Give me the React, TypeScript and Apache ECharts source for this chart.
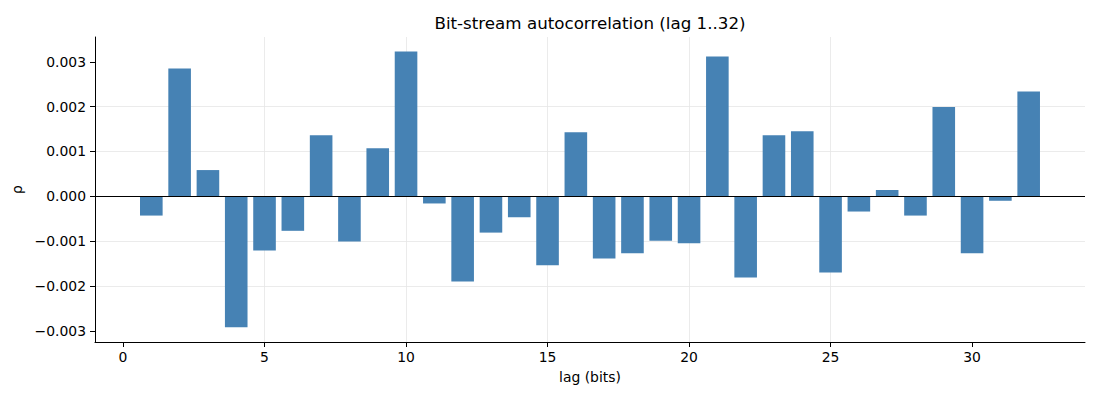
import React, { useEffect, useRef } from "react";
import * as echarts from "echarts";

const lags: number[] = [
  1, 2, 3, 4, 5, 6, 7, 8, 9, 10, 11, 12, 13, 14, 15, 16,
  17, 18, 19, 20, 21, 22, 23, 24, 25, 26, 27, 28, 29, 30, 31, 32,
];
const rho: number[] = [
  -0.00043, 0.00285, 0.000585, -0.00292, -0.00121, -0.00077, 0.00136, -0.00101,
  0.00107, 0.00323, -0.00016, -0.0019, -0.00081, -0.00047, -0.00154, 0.00143,
  -0.00139, -0.00127, -0.00099, -0.00105, 0.00312, -0.00181, 0.00136, 0.00145,
  -0.0017, -0.00034, 0.00014, -0.00043, 0.00199, -0.00127, -0.0001, 0.00234,
];
const xTicks: number[] = [0, 5, 10, 15, 20, 25, 30];
const yTicks: number[] = [-0.003, -0.002, -0.001, 0, 0.001, 0.002, 0.003];

const TITLE = "Bit-stream autocorrelation (lag 1..32)";
const X_NAME = "lag (bits)";
const Y_NAME = "ρ";

const FONT = "DejaVu Sans";

export default function App() {
  const ref = useRef<HTMLDivElement>(null);

  useEffect(() => {
    if (!ref.current) return;
    const chart = echarts.init(ref.current, undefined, { renderer: "svg" });
    const fmtY = (v: number) => {
      const s = Math.abs(v) < 1e-12 ? "0.000" : v.toFixed(3);
      return s.replace("-", "\u2212");
    };
    chart.setOption({
      animation: false,
      backgroundColor: "#ffffff",
      textStyle: { fontFamily: FONT },
      graphic: [
        {
          type: "text",
          x: 590,
          y: 23,
          style: {
            text: TITLE,
            fontFamily: FONT,
            fontSize: 16.7,
            fill: "#000000",
            textAlign: "center",
            textVerticalAlign: "middle",
          },
        },
      ],
      grid: { left: 95, right: 15, top: 37, bottom: 58, containLabel: false },
      xAxis: {
        type: "value",
        min: -0.99,
        max: 33.99,
        name: X_NAME,
        nameLocation: "middle",
        nameGap: 28,
        nameTextStyle: { fontFamily: FONT, fontSize: 13.9, color: "#000" },
        axisLine: { show: true, onZero: false, lineStyle: { color: "#000", width: 1 } },
        axisTick: {
          show: true,
          length: 5,
          customValues: xTicks,
          lineStyle: { color: "#000", width: 1 },
        },
        axisLabel: {
          customValues: xTicks,
          margin: 8,
          fontFamily: FONT,
          fontSize: 13.9,
          color: "#000",
          formatter: (v: number) => String(v),
        },
        splitLine: {
          show: true,
          showMinLine: false,
          showMaxLine: false,
          lineStyle: { color: "#e6e6e6", width: 0.8 },
        },
      },
      yAxis: {
        type: "value",
        min: -0.00325,
        max: 0.003553,
        name: Y_NAME,
        nameLocation: "middle",
        nameGap: 66,
        nameRotate: 90,
        nameTextStyle: { fontFamily: FONT, fontSize: 13.9, color: "#000" },
        axisLine: { show: true, onZero: false, lineStyle: { color: "#000", width: 1 } },
        axisTick: {
          show: true,
          length: 5,
          customValues: yTicks,
          lineStyle: { color: "#000", width: 1 },
        },
        axisLabel: {
          customValues: yTicks,
          margin: 9,
          fontFamily: FONT,
          fontSize: 13.9,
          color: "#000",
          formatter: fmtY,
        },
        splitLine: {
          show: true,
          showMinLine: false,
          showMaxLine: false,
          lineStyle: { color: "#e6e6e6", width: 0.8 },
        },
      },
      series: [
        {
          type: "bar",
          data: lags.map((l, i) => [l, rho[i]]),
          barWidth: 22.6,
          itemStyle: { color: "#4682b4" },
          markLine: {
            silent: true,
            symbol: "none",
            label: { show: false },
            lineStyle: { color: "#000", width: 1, type: "solid" },
            data: [{ yAxis: 0 }],
          },
        },
      ],
    });
    return () => chart.dispose();
  }, []);

  return (
    <div
      ref={ref}
      style={{ position: "fixed", left: 0, top: 0, width: 1100, height: 400 }}
    />
  );
}
